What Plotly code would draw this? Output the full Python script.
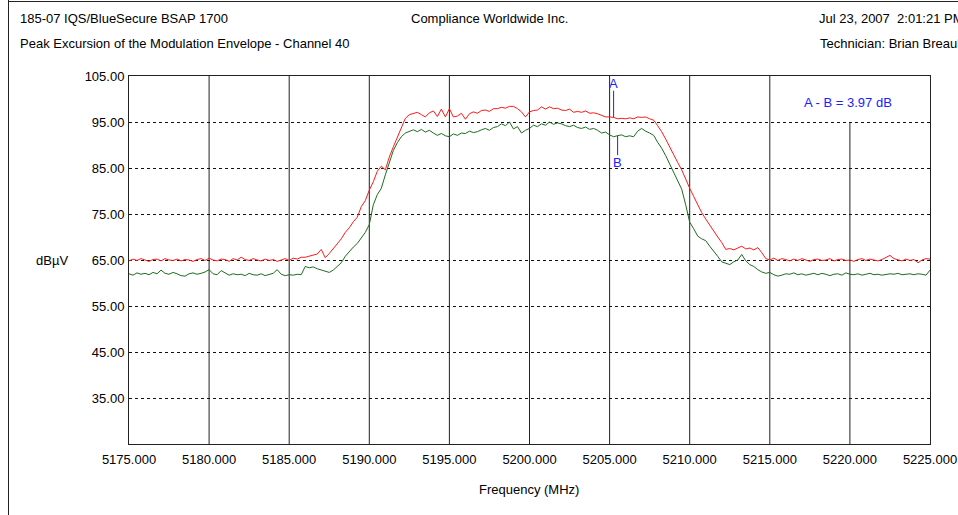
import numpy as np
import plotly.graph_objects as go

# Frequency grid (MHz), 0.25 MHz spacing from 5175 to 5225
freq_start = 5175.0
freq_step = 0.25

# Peak trace (red), dBuV
peak_dbuv = [
    64.8, 65.2, 64.9, 65.3,  65.0, 64.7, 65.1, 65.2,  64.8, 65.3, 65.0, 64.9,
    65.2, 64.8, 65.1, 65.0,  64.7, 65.1, 65.3, 64.9,  65.4, 65.0, 64.8, 65.2,
    65.1, 64.7, 65.3, 65.0,  65.6, 65.1, 64.9, 65.3,  65.0, 64.8, 65.2, 64.9,
    65.1, 64.7, 65.0, 65.3,  64.9, 65.4, 65.2, 65.6,  65.6, 65.8, 66.0, 66.3,
    67.3, 65.5, 66.4, 67.4,  68.6, 69.6, 71.0, 72.0,  73.3, 74.3, 76.6, 77.9,
    80.2, 82.0, 84.3, 85.4,  84.6, 87.4, 89.6, 91.6,  94.0, 95.8, 96.6, 96.9,
    97.1, 96.6, 96.1, 97.0,  97.4, 96.2, 97.8, 96.1,  97.9, 96.1, 96.3, 96.9,
    95.6, 96.8, 97.2, 96.9,  97.5, 97.6, 97.3, 97.9,  97.9, 98.2, 98.0, 98.4,
    98.4, 97.9, 97.2, 96.1,  97.2, 97.5, 97.6, 98.3,  97.8, 98.3, 97.9, 98.0,
    97.6, 97.5, 97.8, 97.1,  97.3, 97.1, 97.4, 96.9,  97.0, 96.8, 96.5, 96.1,
    96.1, 96.00, 95.7, 95.8, 95.7, 95.9, 95.7, 96.1,  96.0, 96.1, 95.7, 95.4,
    94.2, 92.9, 91.3, 89.5,  87.8, 86.2, 84.6, 82.4,  80.6, 78.8, 77.0, 75.3,
    73.9, 72.5, 71.3, 70.0,  68.8, 67.3, 67.5, 67.2,  67.6, 68.0, 67.4, 67.6,
    67.2, 67.7, 66.6, 65.3,  65.0, 65.4, 64.9, 65.3,  65.1, 64.8, 65.2, 64.9,
    65.3, 65.0, 64.7, 65.1,  65.2, 64.9, 65.0, 65.3,  64.8, 65.1, 65.2, 64.9,
    65.0, 64.7, 65.1, 65.3,  64.9, 65.2, 65.0, 64.8,  65.1, 65.5, 66.0, 65.3,
    65.0, 64.8, 65.2, 64.9,  65.1, 64.4, 65.0, 65.3,  65.2,
]

# Average trace (green), dBuV
avg_dbuv = [
    62.0, 61.7, 62.2, 61.9,  62.1, 61.8, 62.3, 62.0,  62.8, 62.1, 61.9, 62.3,
    62.0, 61.6, 61.5, 62.0,  62.2, 61.9, 62.1, 62.4,  62.9, 62.0, 61.8, 62.7,
    62.2, 61.7, 62.0, 61.8,  61.9, 61.6, 62.1, 61.8,  61.7, 62.0, 61.6, 61.9,
    62.1, 62.9, 61.9, 61.6,  61.8, 61.7, 61.9, 61.8,  63.6, 63.3, 63.5, 63.1,
    62.8, 62.6, 62.3, 62.8,  63.5, 64.4, 65.8, 66.9,  67.8, 68.6, 69.7, 71.0,
    72.7, 77.0, 79.2, 80.6,  83.5, 86.4, 88.8, 90.5,  91.8, 92.6, 92.9, 93.3,
    92.9, 93.4, 92.8, 93.2,  92.6, 92.1, 92.5, 92.0,  91.8, 92.4, 92.1, 92.6,
    92.5, 93.0, 92.7, 92.9,  93.3, 93.6, 93.2, 93.8,  94.0, 94.6, 94.2, 95.0,
    93.5, 94.0, 92.6, 93.2,  93.6, 94.3, 94.0, 94.6,  94.3, 95.0, 94.5, 94.8,
    94.6, 94.2, 94.0, 94.3,  93.8, 93.6, 93.9, 93.4,  93.6, 93.2, 92.6, 92.8,
    92.2, 91.8, 92.03, 92.2, 91.8, 92.0, 91.8, 93.0,  93.6, 93.0, 92.6, 92.1,
    90.6, 89.3, 87.7, 85.8,  83.9, 82.3, 80.4, 77.0,  73.2, 71.8, 70.2, 69.6,
    69.2, 68.0, 67.0, 65.8,  64.6, 64.3, 64.0, 64.6,  65.0, 66.2, 64.8, 64.0,
    63.6, 62.9, 62.4, 62.1,  62.3, 61.8, 61.5, 61.7,  62.0, 61.9, 62.2, 61.8,
    62.0, 61.7, 61.9, 62.1,  61.8, 62.1, 61.9, 61.6,  61.9, 62.0, 61.7, 62.2,
    61.9, 61.8, 62.0, 61.7,  61.9, 62.1, 61.8, 61.9,  61.7, 61.8, 62.0, 61.9,
    62.1, 61.8, 61.9, 62.0,  61.8, 62.0, 61.9, 61.7,  62.8,
]

# Axis ticks
x_ticks = [5175, 5180, 5185, 5190, 5195, 5200, 5205, 5210, 5215, 5220, 5225]
y_ticks = [35, 45, 55, 65, 75, 85, 95, 105]
x_tick_labels = [f"{v:.3f}" for v in x_ticks]
y_tick_labels = [f"{v:.2f}" for v in y_ticks]

# Marker positions (MHz)
marker_a_freq = 5205.25
marker_b_freq = 5205.5

freqs = freq_start + freq_step * np.arange(len(peak_dbuv))
marker_a_val = peak_dbuv[int(round((marker_a_freq - freq_start) / freq_step))]
marker_b_val = avg_dbuv[int(round((marker_b_freq - freq_start) / freq_step))]
delta_db = marker_a_val - marker_b_val

W, H = 958, 515
ML, MR, MT, MB = 129, 28, 76, 71
PW, PH = W - ML - MR, H - MT - MB


def px(x):
    return (x - ML) / PW


def py(y):
    return (H - MB - y) / PH


FONT = "Liberation Sans, Arial, sans-serif"
FS = 13
BLUE = "#2020ff"

fig = go.Figure()

fig.add_trace(go.Scatter(x=freqs, y=peak_dbuv, mode="lines",
                         line=dict(color="#ff1a1a", width=1), hoverinfo="skip"))
fig.add_trace(go.Scatter(x=freqs, y=avg_dbuv, mode="lines",
                         line=dict(color="#1f6b1f", width=1), hoverinfo="skip"))

# Marker A: line up from the peak trace, Marker B: line down from the average trace
fig.add_trace(go.Scatter(x=[marker_a_freq, marker_a_freq], y=[marker_a_val, 101.8],
                         mode="lines", line=dict(color=BLUE, width=1), hoverinfo="skip"))
fig.add_trace(go.Scatter(x=[marker_b_freq, marker_b_freq], y=[marker_b_val, 87.8],
                         mode="lines", line=dict(color=BLUE, width=1), hoverinfo="skip"))

annotations = [
    dict(x=marker_a_freq, y=103.3, text="A"),
    dict(x=marker_b_freq, y=86.3, text="B"),
    dict(x=5219.9, y=99.3, text=f"A - B = {delta_db:.2f} dB"),
]
for a in annotations:
    a.update(xref="x", yref="y", showarrow=False, xanchor="center", yanchor="middle",
             font=dict(family=FONT, size=FS, color=BLUE))

headers = [
    (18, 18, "left", "185-07 IQS/BlueSecure BSAP 1700"),
    (18, 43, "left", "Peak Excursion of the Modulation Envelope - Channel 40"),
    (489, 18, "center", "Compliance Worldwide Inc."),
    (817, 18, "left", "Jul 23, 2007  2:01:21 PM"),
    (818, 43, "left", "Technician: Brian Breault"),
    (52, 260, "center", "dBµV"),
    (529, 489, "center", "Frequency (MHz)"),
]
for x, y, anchor, text in headers:
    annotations.append(dict(x=px(x), y=py(y), xref="paper", yref="paper", text=text,
                            showarrow=False, xanchor=anchor, yanchor="middle",
                            font=dict(family=FONT, size=FS, color="#000")))

shapes = []
# Vertical grid lines (the 5220 one stops below the readout box)
for xv in x_ticks[1:-1]:
    top = 95 if xv == 5220 else 105
    shapes.append(dict(type="line", xref="x", yref="y", x0=xv, x1=xv, y0=25, y1=top,
                       line=dict(color="#222", width=1), layer="below"))
# Outer page frame
shapes.append(dict(type="line", xref="paper", yref="paper", x0=px(8.5), x1=px(8.5),
                   y0=py(0), y1=py(H), line=dict(color="#222", width=1)))
shapes.append(dict(type="line", xref="paper", yref="paper", x0=px(8), x1=px(W + 5),
                   y0=py(1.5), y1=py(1.5), line=dict(color="#222", width=1)))

fig.update_layout(
    width=W, height=H,
    margin=dict(l=ML, r=MR, t=MT, b=MB, pad=0, autoexpand=False),
    paper_bgcolor="white", plot_bgcolor="white",
    showlegend=False,
    font=dict(family=FONT, size=FS, color="#000"),
    annotations=annotations,
    shapes=shapes,
    xaxis=dict(range=[5175, 5225], tickvals=x_ticks, ticktext=x_tick_labels,
               showgrid=False, zeroline=False, showline=True, mirror=True,
               linecolor="#222", linewidth=1, ticks="", ticklabelstandoff=3,
               automargin=False),
    yaxis=dict(range=[25, 105], tickvals=y_ticks, ticktext=y_tick_labels,
               showgrid=True, gridcolor="#111", gridwidth=1, griddash="3px,3px",
               zeroline=False, showline=True, mirror=True,
               linecolor="#222", linewidth=1, ticks="", ticklabelstandoff=1,
               automargin=False),
)

fig.write_html("out.html")
